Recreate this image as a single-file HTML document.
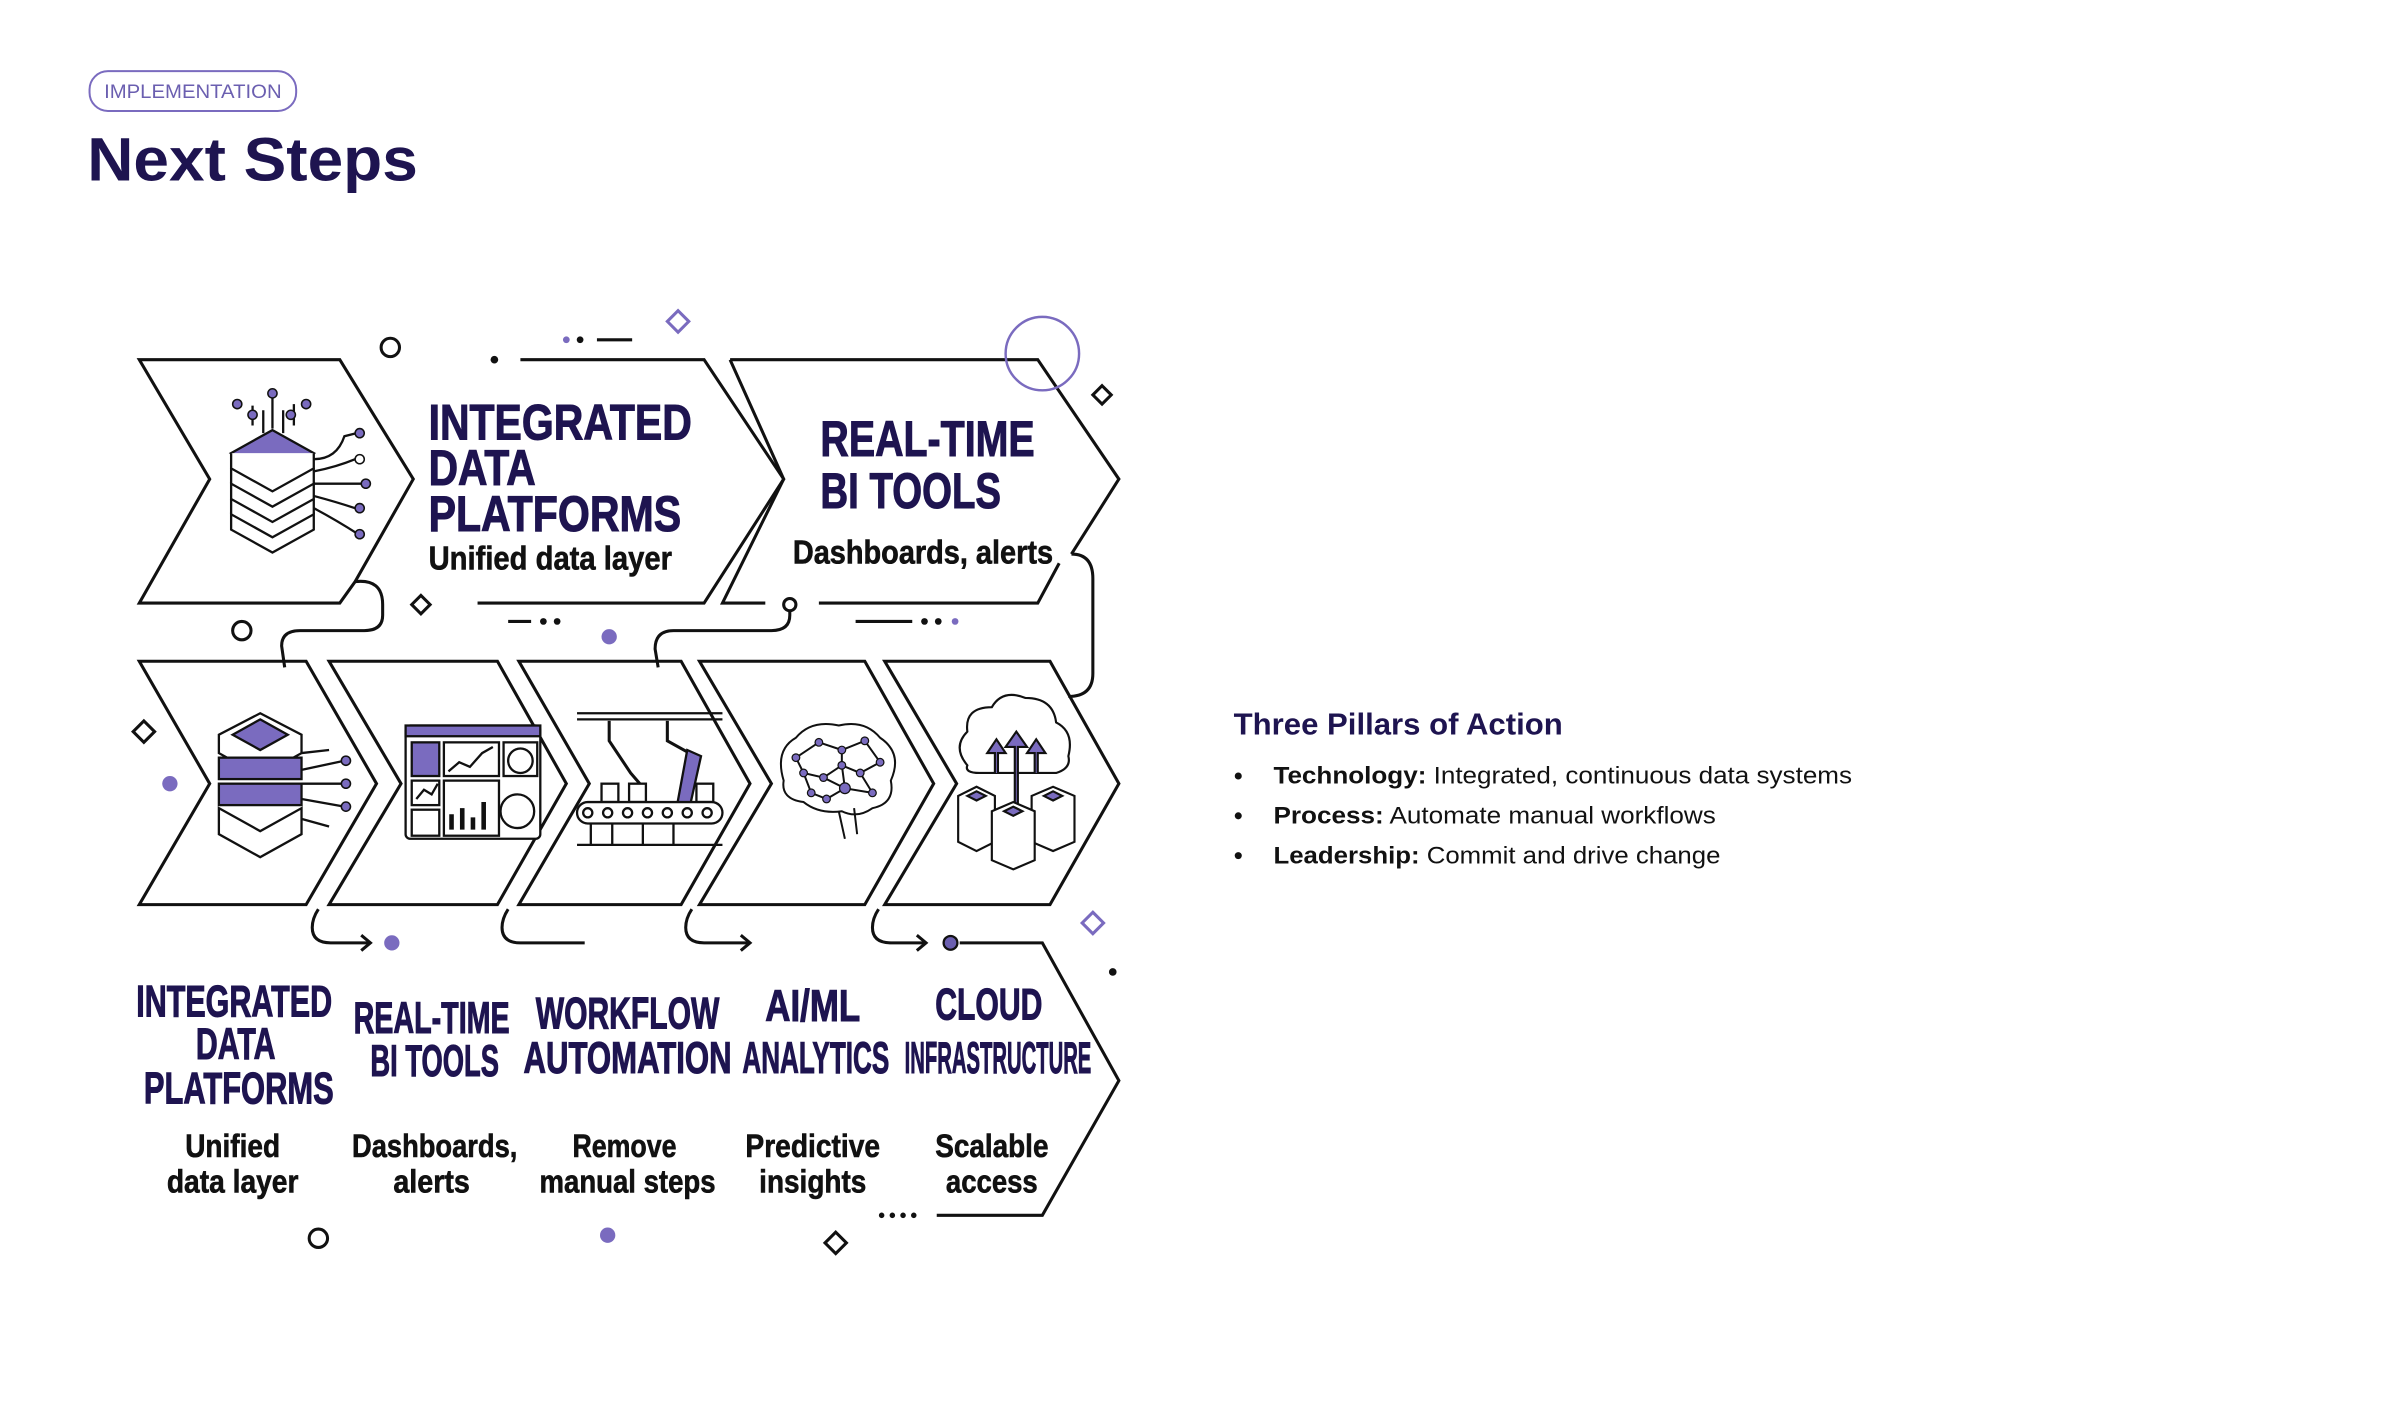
<!DOCTYPE html>
<html><head><meta charset="utf-8"><style>
html,body{margin:0;padding:0;background:#fff;}
svg{display:block}
</style></head><body>
<svg width="2400" height="1412" viewBox="0 0 1568 922.5" xmlns="http://www.w3.org/2000/svg">
<rect width="1568" height="922.5" fill="#fff"/>
<rect x="58.5" y="46.5" width="135" height="26" rx="12" fill="none" stroke="#7a6bbf" stroke-width="1.3"/>
<text x="126" y="64" text-anchor="middle" font-family="Liberation Sans, sans-serif" font-size="12.5" fill="#6b5fb0" textLength="116" lengthAdjust="spacingAndGlyphs">IMPLEMENTATION</text>
<text x="57" y="118" font-family="Liberation Sans, sans-serif" font-size="40" font-weight="bold" fill="#1e1450" textLength="216" lengthAdjust="spacingAndGlyphs">Next Steps</text>

<g fill="none" stroke="#111" stroke-width="2" stroke-linejoin="miter">
<polygon points="91,235 222,235 270,313 232,380 222,394 91,394 137,313" fill="#fff"/>
<path d="M340,235 L460,235 L512,313 L460,394 L312,394"/>
<path d="M477,235 L678,235 L731,313 L700,362"/>
<path d="M477,235 L512,313 L472,394 L500,394"/>
<path d="M535,394 L678,394 L692,368"/>
<polygon points="91,432 200,432 246,512 200,591 91,591 137,512"/>
<polygon points="215,432 325,432 370,512 325,591 215,591 262,512"/>
<polygon points="339,432 445,432 490,512 445,591 339,591 385,512"/>
<polygon points="457,432 565,432 610,512 565,591 457,591 504,512"/>
<polygon points="578,432 686,432 731,512 686,591 578,591 625,512"/>
<path d="M627,616 L681,616 L731,706 L681,794 L612,794"/>
<path d="M232,380 Q250,378 250,395 L250,402 Q250,412 238,412 L196,412 Q184,412 184,422 L186,436"/>
<path d="M516,399 L516,402 Q516,412 504,412 L440,412 Q428,412 428,424 L430,436"/>
<path d="M700,362 Q714,362 714,378 L714,440 Q714,455 698,455"/>
<path d="M208,594 Q204,600 204,606 Q204,616 216,616 L242,616"/>
<path d="M236,611 L242,616 L236,621"/>
<path d="M332,594 Q328,600 328,606 Q328,616 340,616 L382,616"/>
<path d="M452,594 Q448,600 448,606 Q448,616 460,616 L490,616"/>
<path d="M484,611 L490,616 L484,621"/>
<path d="M574,594 Q570,600 570,606 Q570,616 582,616 L605,616"/>
<path d="M599,611 L605,616 L599,621"/>
</g>
<circle cx="516" cy="395" r="4" fill="#fff" stroke="#111" stroke-width="2"/>
<circle cx="621" cy="616" r="4.5" fill="#6b5fb0" stroke="#111" stroke-width="1.5"/>

<g fill="none" stroke="#111" stroke-width="2">
<circle cx="255" cy="227" r="6"/>
<circle cx="158" cy="412" r="6"/>
<circle cx="208" cy="809" r="6"/>
<path d="M275,389 L281,395 L275,401 L269,395 Z"/>
<path d="M720,252 L726,258 L720,264 L714,258 Z"/>
<path d="M94,471 L101,478 L94,485 L87,478 Z"/>
<path d="M546,805 L553,812 L546,819 L539,812 Z"/>
<path d="M390,222 L413,222"/>
<path d="M332,406 L347,406"/>
<path d="M559,406 L596,406"/>
</g>
<g fill="none" stroke="#7a6bbf" stroke-width="2">
<path d="M443,203 L450,210 L443,217 L436,210 Z"/>
<path d="M714,596 L721,603 L714,610 L707,603 Z"/>
<circle cx="681" cy="231" r="24" stroke-width="1.6"/>
</g>
<g fill="#111">
<circle cx="323" cy="235" r="2.5"/><circle cx="379" cy="222" r="2.2"/>
<circle cx="355" cy="406" r="2.2"/><circle cx="364" cy="406" r="2.2"/>
<circle cx="604" cy="406" r="2.2"/><circle cx="613" cy="406" r="2.2"/>
<circle cx="727" cy="635" r="2.5"/>
<circle cx="576" cy="794" r="1.8"/><circle cx="583" cy="794" r="1.8"/><circle cx="590" cy="794" r="1.8"/><circle cx="597" cy="794" r="1.8"/>
</g>
<g fill="#7a6bbf">
<circle cx="370" cy="222" r="2.2"/><circle cx="624" cy="406" r="2.2"/>
<circle cx="398" cy="416" r="5"/><circle cx="111" cy="512" r="5"/>
<circle cx="256" cy="616" r="5"/><circle cx="397" cy="807" r="5"/>
</g>

<g font-family="Liberation Sans, sans-serif" font-weight="bold" stroke-width="0.7">
<text x="280" y="287" font-size="33" fill="#1e1450" stroke="#1e1450" textLength="172" lengthAdjust="spacingAndGlyphs">INTEGRATED</text>
<text x="280" y="317" font-size="33" fill="#1e1450" stroke="#1e1450" textLength="70" lengthAdjust="spacingAndGlyphs">DATA</text>
<text x="280" y="347" font-size="33" fill="#1e1450" stroke="#1e1450" textLength="165" lengthAdjust="spacingAndGlyphs">PLATFORMS</text>
<text x="280" y="372" font-size="22" fill="#111" stroke="#111" stroke-width="0.4" textLength="159" lengthAdjust="spacingAndGlyphs">Unified data layer</text>
<text x="536" y="298" font-size="33" fill="#1e1450" stroke="#1e1450" textLength="140" lengthAdjust="spacingAndGlyphs">REAL-TIME</text>
<text x="536" y="332" font-size="33" fill="#1e1450" stroke="#1e1450" textLength="118" lengthAdjust="spacingAndGlyphs">BI TOOLS</text>
<text x="518" y="368" font-size="22" fill="#111" stroke="#111" stroke-width="0.4" textLength="170" lengthAdjust="spacingAndGlyphs">Dashboards, alerts</text>
</g>
<g font-family="Liberation Sans, sans-serif" font-weight="bold" text-anchor="middle" font-size="29" fill="#1e1450" stroke="#1e1450" stroke-width="0.7">
<text x="153" y="664" textLength="128" lengthAdjust="spacingAndGlyphs">INTEGRATED</text>
<text x="154" y="692" textLength="52" lengthAdjust="spacingAndGlyphs">DATA</text>
<text x="156" y="721" textLength="124" lengthAdjust="spacingAndGlyphs">PLATFORMS</text>
<text x="282" y="675" textLength="102" lengthAdjust="spacingAndGlyphs">REAL-TIME</text>
<text x="284" y="703" textLength="84" lengthAdjust="spacingAndGlyphs">BI TOOLS</text>
<text x="410" y="672" textLength="120" lengthAdjust="spacingAndGlyphs">WORKFLOW</text>
<text x="410" y="701" textLength="136" lengthAdjust="spacingAndGlyphs">AUTOMATION</text>
<text x="531" y="667" textLength="62" lengthAdjust="spacingAndGlyphs">AI/ML</text>
<text x="533" y="701" textLength="96" lengthAdjust="spacingAndGlyphs">ANALYTICS</text>
<text x="646" y="666" textLength="70" lengthAdjust="spacingAndGlyphs">CLOUD</text>
<text x="652" y="701" textLength="122" lengthAdjust="spacingAndGlyphs">INFRASTRUCTURE</text>
</g>
<g font-family="Liberation Sans, sans-serif" font-weight="bold" text-anchor="middle" font-size="21" fill="#111" stroke="#111" stroke-width="0.4">
<text x="152" y="756" textLength="62" lengthAdjust="spacingAndGlyphs">Unified</text>
<text x="152" y="779" textLength="86" lengthAdjust="spacingAndGlyphs">data layer</text>
<text x="284" y="756" textLength="108" lengthAdjust="spacingAndGlyphs">Dashboards,</text>
<text x="282" y="779" textLength="50" lengthAdjust="spacingAndGlyphs">alerts</text>
<text x="408" y="756" textLength="68" lengthAdjust="spacingAndGlyphs">Remove</text>
<text x="410" y="779" textLength="115" lengthAdjust="spacingAndGlyphs">manual steps</text>
<text x="531" y="756" textLength="88" lengthAdjust="spacingAndGlyphs">Predictive</text>
<text x="531" y="779" textLength="70" lengthAdjust="spacingAndGlyphs">insights</text>
<text x="648" y="756" textLength="74" lengthAdjust="spacingAndGlyphs">Scalable</text>
<text x="648" y="779" textLength="60" lengthAdjust="spacingAndGlyphs">access</text>
</g>

<g stroke="#111" stroke-width="1.5" fill="#fff">
<path d="M178,281 L205,296 L178,311 L151,296 Z" fill="#7a6bbf"/>
<path d="M151,296 L151,306 L178,321 L205,306 L205,296"/>
<path d="M151,316 L151,326 L178,341 L205,326 L205,316 L178,331 Z" fill="#fff"/>
<path d="M151,336 L151,346 L178,361 L205,346 L205,336 L178,351 Z" fill="#fff"/>
<path d="M151,306 L151,316 M205,306 L205,316 M151,326 L151,336 M205,326 L205,336" />
<path d="M165,278 L165,265 M172,283 L172,268 M178,280 L178,258 M185,283 L185,268 M192,278 L192,264" fill="none"/>
<path d="M205,300 Q220,300 225,285 L233,283 M205,308 Q220,305 232,300 M205,316 L238,316 M205,324 Q220,328 232,332 M205,332 Q220,340 234,349" fill="none"/>
</g>
<g fill="#7a6bbf" stroke="#111" stroke-width="1">
<circle cx="155" cy="264" r="3"/><circle cx="165" cy="271" r="3"/><circle cx="178" cy="257" r="3"/><circle cx="190" cy="271" r="3"/><circle cx="200" cy="264" r="3"/>
<circle cx="235" cy="283" r="3"/><circle cx="235" cy="300" r="3" fill="#fff"/><circle cx="239" cy="316" r="3"/><circle cx="235" cy="332" r="3"/><circle cx="235" cy="349" r="3"/>
</g>
<g stroke="#111" stroke-width="1.5" fill="#fff">
<path d="M170,466 L197,480 L197,492 L170,507 L143,492 L143,480 Z"/>
<path d="M170,470 L188,480 L170,490 L152,480 Z" fill="#7a6bbf"/>
<rect x="143" y="495" width="54" height="14" fill="#7a6bbf"/>
<rect x="143" y="512" width="54" height="14" fill="#7a6bbf"/>
<path d="M143,528 L170,543 L197,528 L197,545 L170,560 L143,545 Z"/>
<path d="M197,492 L215,490 M197,503 L225,497 M197,512 L225,512 M197,522 L225,527 M197,535 L215,540" fill="none"/>
</g>
<g fill="#7a6bbf" stroke="#111"><circle cx="226" cy="497" r="3"/><circle cx="226" cy="512" r="3"/><circle cx="226" cy="527" r="3"/></g>
<g stroke="#111" stroke-width="1.5" fill="#fff">
<rect x="265" y="474" width="88" height="74" rx="3"/>
<rect x="265" y="474" width="88" height="7" fill="#7a6bbf"/>
<rect x="269" y="485" width="18" height="22" fill="#7a6bbf"/>
<rect x="290" y="485" width="36" height="22"/>
<rect x="329" y="485" width="22" height="22"/>
<circle cx="340" cy="497" r="8"/>
<rect x="269" y="510" width="18" height="16"/>
<rect x="269" y="529" width="18" height="17"/>
<rect x="290" y="510" width="36" height="36"/>
<circle cx="338" cy="530" r="11"/>
<path d="M293,504 L300,498 L307,501 L315,492 L322,488" fill="none"/>
<path d="M272,522 L277,516 L282,519 L286,512" fill="none"/>
<path d="M295,542 L295,532 M302,542 L302,528 M309,542 L309,534 M316,542 L316,524" fill="#7a6bbf" stroke-width="3"/>
</g>
<g stroke="#111" stroke-width="1.5" fill="#fff">
<path d="M377,466 L472,466 M377,470 L472,470" fill="none"/>
<path d="M398,471 L398,484 L412,505 L418,512 M436,471 L436,484 L454,494 L446,528" fill="none" stroke-width="2"/>
<path d="M449,490 L458,494 L450,530 L442,528 Z" fill="#7a6bbf"/>
<rect x="393" y="512" width="11" height="12"/><rect x="411" y="512" width="11" height="12"/><rect x="455" y="512" width="11" height="12"/>
<rect x="377" y="524" width="95" height="14" rx="7"/>
<g fill="#fff"><circle cx="384" cy="531" r="3"/><circle cx="397" cy="531" r="3"/><circle cx="410" cy="531" r="3"/><circle cx="423" cy="531" r="3"/><circle cx="436" cy="531" r="3"/><circle cx="449" cy="531" r="3"/><circle cx="462" cy="531" r="3"/></g>
<path d="M377,552 L472,552 M386,538 L386,552 M400,538 L400,552 M420,538 L420,552 M440,538 L440,552" fill="none"/>
</g>
<g stroke="#111" stroke-width="1.3" fill="none">
<path d="M512,510 Q506,490 520,482 Q530,470 548,474 Q565,470 575,482 Q590,492 582,510 Q585,525 570,528 Q560,535 550,530 Q535,532 525,524 Q510,522 512,510 Z" fill="#fff"/>
<path d="M548,530 L552,548 M558,528 L560,545"/>
<path d="M520,495 L535,485 L550,490 L565,484 L575,498 L562,505 L550,500 L538,508 L525,505 Z M550,490 L550,500 L552,515 L538,508 M562,505 L570,518 L552,515 L540,522 M525,505 L530,518 L540,522"/>
</g>
<g fill="#7a6bbf" stroke="#111" stroke-width="0.8">
<circle cx="520" cy="495" r="2.5"/><circle cx="535" cy="485" r="2.5"/><circle cx="550" cy="490" r="2.5"/><circle cx="565" cy="484" r="2.5"/><circle cx="575" cy="498" r="2.5"/><circle cx="562" cy="505" r="2.5"/><circle cx="550" cy="500" r="2.5"/><circle cx="538" cy="508" r="2.5"/><circle cx="525" cy="505" r="2.5"/><circle cx="552" cy="515" r="3.5"/><circle cx="570" cy="518" r="2.5"/><circle cx="540" cy="522" r="2.5"/><circle cx="530" cy="518" r="2.5"/>
</g>
<g stroke="#111" stroke-width="1.4" fill="#fff">
<path d="M632,500 Q622,488 632,478 Q630,462 648,462 Q655,450 670,456 Q688,456 690,472 Q702,478 698,494 Q700,502 690,505 L640,505 Q630,505 632,500 Z"/>
<path d="M663,530 L663,488 L657,488 L664,478 L671,488 L665,488 L665,530" fill="#7a6bbf"/>
<path d="M650,505 L650,492 L645,492 L651,483 L657,492 L652,492 L652,505" fill="#7a6bbf"/>
<path d="M676,505 L676,492 L671,492 L677,483 L683,492 L678,492 L678,505" fill="#7a6bbf"/>
<path d="M626,520 L638,514 L650,520 L650,550 L638,556 L626,550 Z"/>
<path d="M674,520 L688,514 L702,520 L702,550 L688,556 L674,550 Z"/>
<path d="M648,530 L662,524 L676,530 L676,562 L662,568 L648,562 Z"/>
<path d="M656,530 L662,527 L668,530 L662,533 Z M632,520 L638,517 L644,520 L638,523 Z M682,520 L688,517 L694,520 L688,523 Z" fill="#7a6bbf"/>
</g>

<g font-family="Liberation Sans, sans-serif">
<text x="806" y="480" font-size="20" font-weight="bold" fill="#1e1450" textLength="215" lengthAdjust="spacingAndGlyphs">Three Pillars of Action</text>
<g font-size="16" fill="#111">
<circle cx="809" cy="507" r="2.3"/><circle cx="809" cy="533" r="2.3"/><circle cx="809" cy="559" r="2.3"/>
<text x="832" y="512" textLength="378" lengthAdjust="spacingAndGlyphs"><tspan font-weight="bold">Technology:</tspan> Integrated, continuous data systems</text>
<text x="832" y="538" textLength="289" lengthAdjust="spacingAndGlyphs"><tspan font-weight="bold">Process:</tspan> Automate manual workflows</text>
<text x="832" y="564" textLength="292" lengthAdjust="spacingAndGlyphs"><tspan font-weight="bold">Leadership:</tspan> Commit and drive change</text>
</g>
</g>
</svg>
</body></html>
